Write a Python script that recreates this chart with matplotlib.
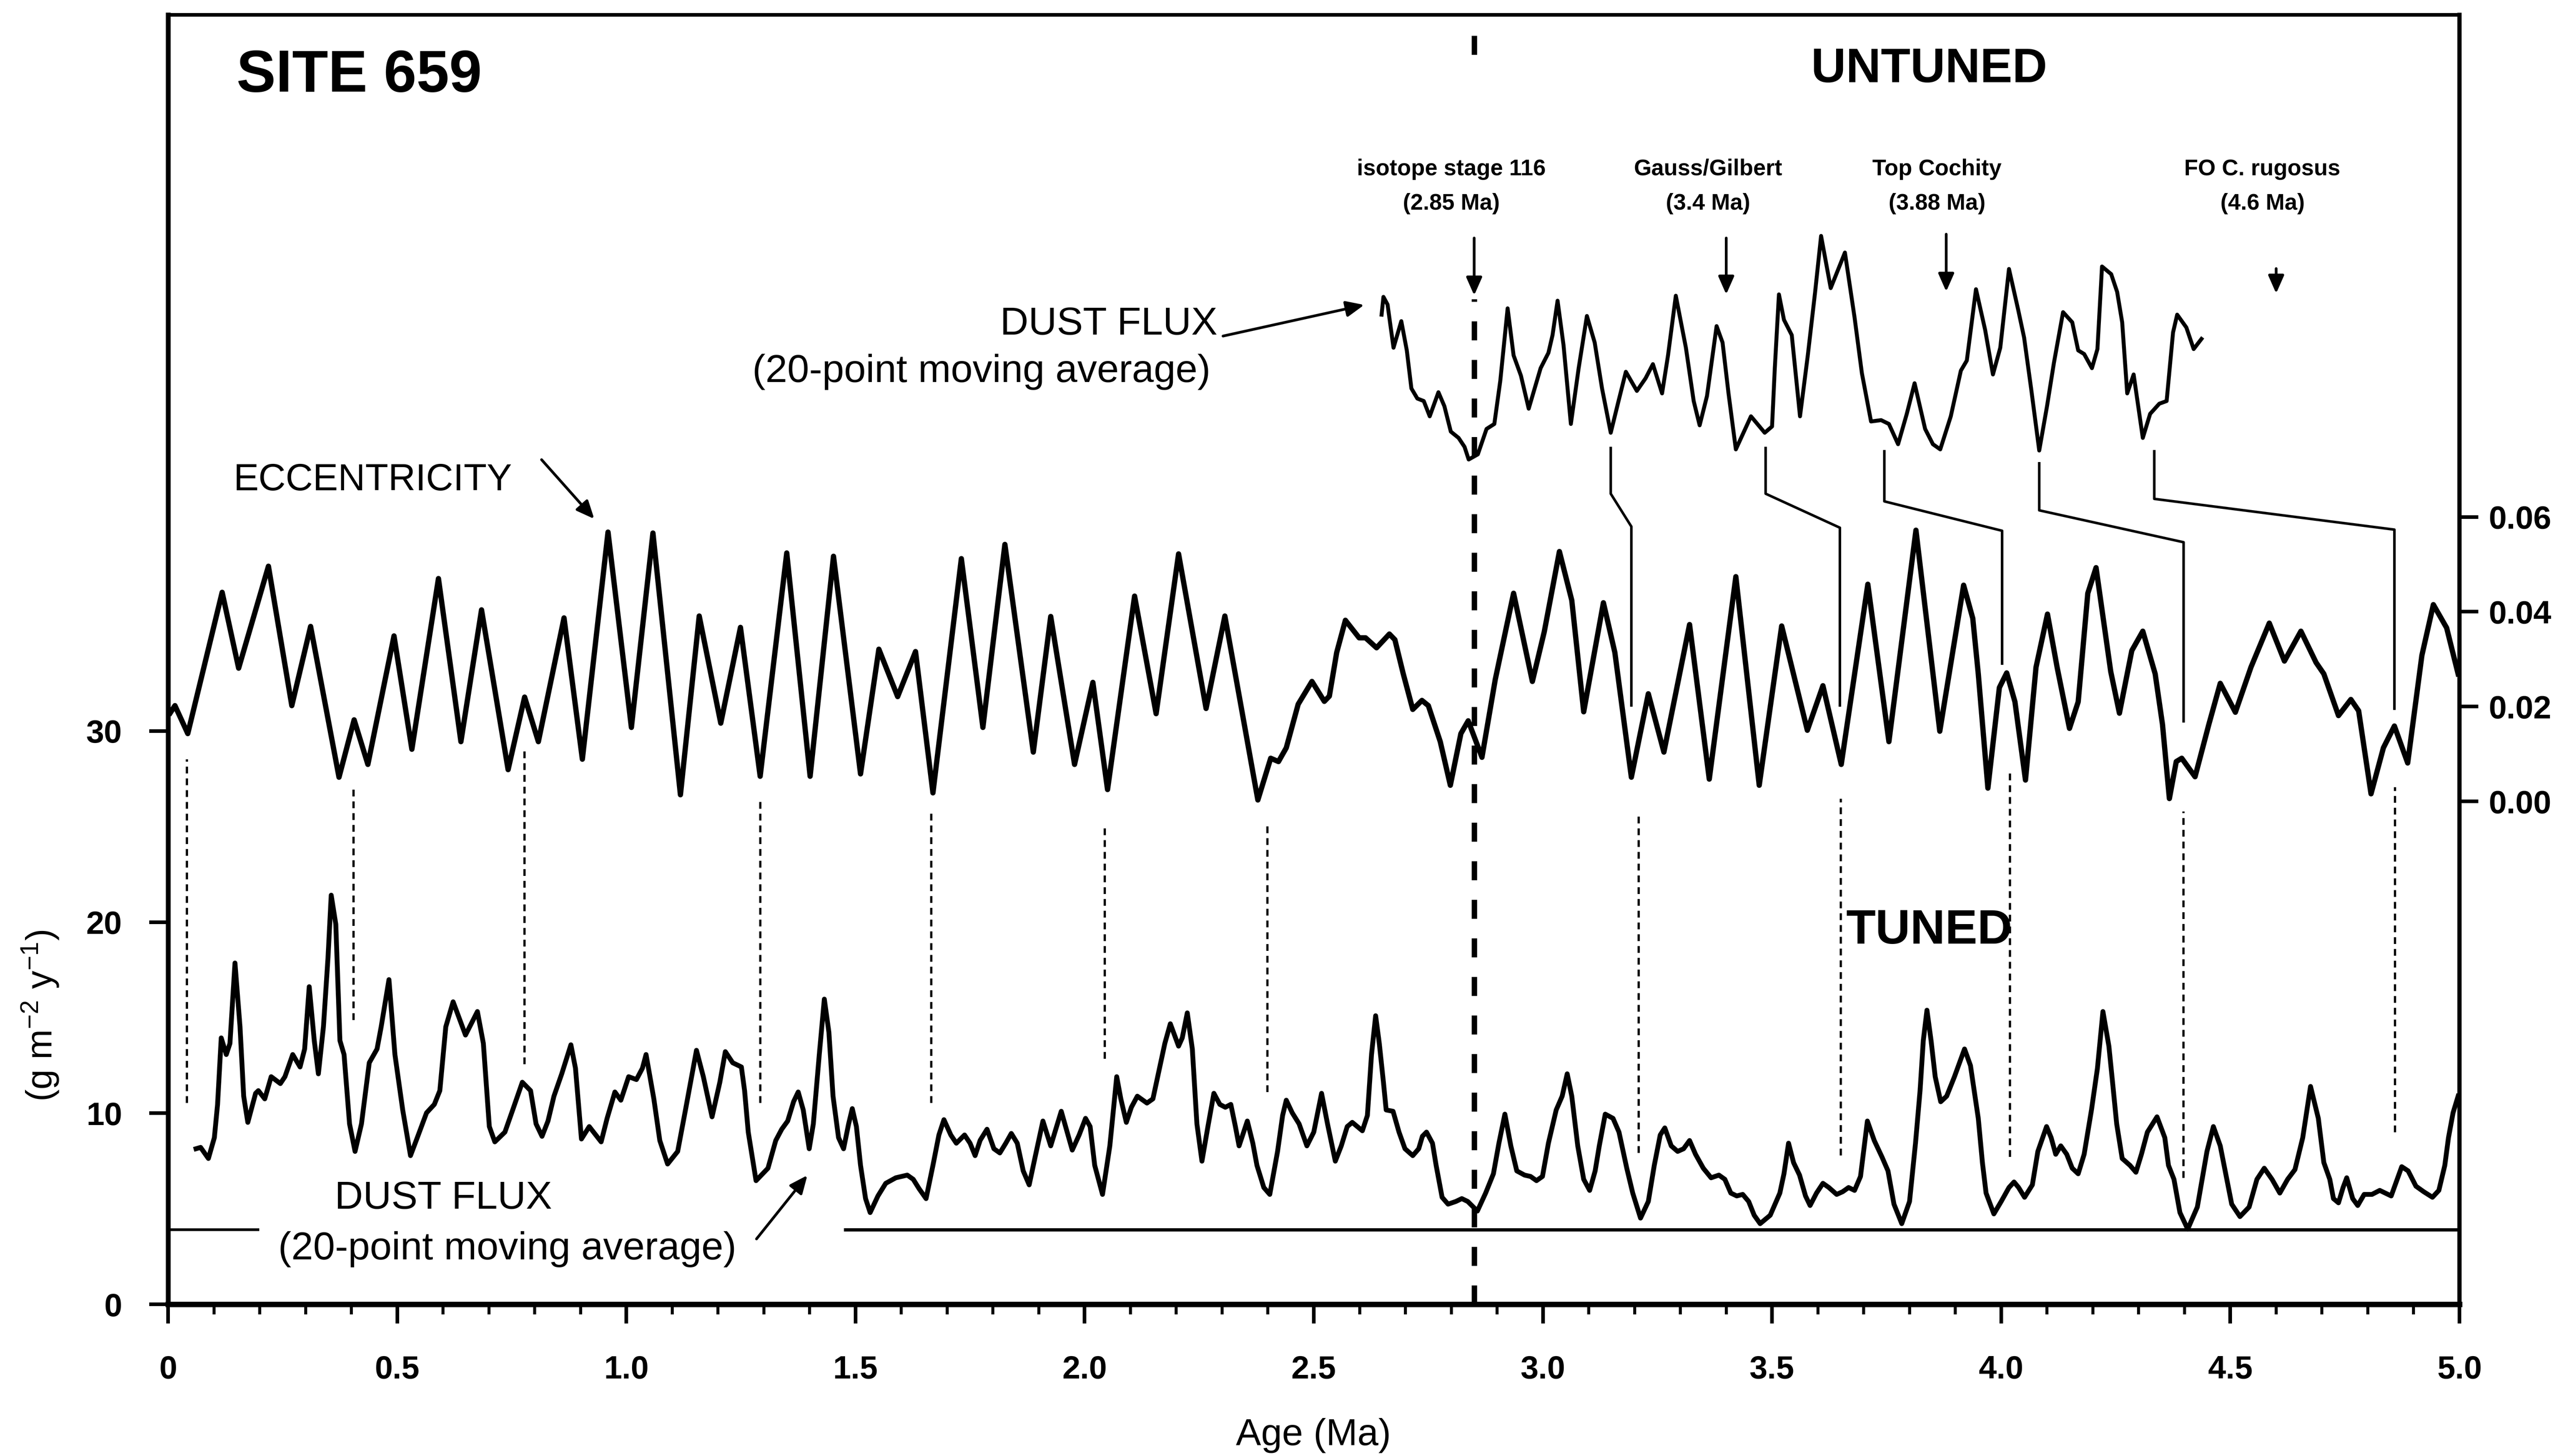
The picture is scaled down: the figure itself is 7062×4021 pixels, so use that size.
import numpy as np
import matplotlib
matplotlib.use('Agg')
import matplotlib.pyplot as plt
import matplotlib.font_manager as fm
from matplotlib.ticker import MultipleLocator

names = {f.name for f in fm.fontManager.ttflist}
FONT = 'Liberation Sans' if 'Liberation Sans' in names else 'DejaVu Sans'
plt.rcParams['font.family'] = [FONT, 'DejaVu Sans']
plt.rcParams['mathtext.fontset'] = 'custom'
plt.rcParams['mathtext.rm'] = FONT
plt.rcParams['mathtext.it'] = FONT + ':italic'
plt.rcParams['mathtext.bf'] = FONT + ':bold'
plt.rcParams['mathtext.default'] = 'regular'

# ---------------- data ----------------
ecc_age = [0.005, 0.015, 0.043, 0.118, 0.154, 0.219, 0.270, 0.311, 0.373, 0.406, 0.436, 0.493, 0.532, 0.590,
           0.639, 0.684, 0.742, 0.778, 0.808, 0.864, 0.904, 0.960, 1.011, 1.058, 1.118, 1.159, 1.206, 1.249,
           1.292, 1.350, 1.401, 1.452, 1.511, 1.551, 1.592, 1.631, 1.669, 1.731, 1.778, 1.826, 1.888, 1.926,
           1.978, 2.018, 2.050, 2.109, 2.156, 2.205, 2.265, 2.306, 2.378, 2.406, 2.423, 2.440, 2.466, 2.496,
           2.523, 2.534, 2.550, 2.569, 2.599, 2.613, 2.637, 2.665, 2.677, 2.695, 2.716, 2.736, 2.750, 2.776,
           2.798, 2.821, 2.837, 2.867, 2.896, 2.936, 2.977, 3.003, 3.036, 3.063, 3.089, 3.132, 3.157, 3.193,
           3.230, 3.264, 3.320, 3.363, 3.421, 3.472, 3.521, 3.577, 3.611, 3.651, 3.709, 3.755, 3.814, 3.866,
           3.918, 3.938, 3.950, 3.971, 3.996, 4.012, 4.030, 4.053, 4.076, 4.101, 4.122, 4.149, 4.168, 4.189,
           4.207, 4.239, 4.258, 4.285, 4.309, 4.336, 4.352, 4.367, 4.382, 4.394, 4.423, 4.453, 4.478, 4.511,
           4.545, 4.585, 4.618, 4.654, 4.687, 4.704, 4.736, 4.763, 4.780, 4.807, 4.834, 4.858, 4.887, 4.918,
           4.943, 4.972, 4.997]
ecc_val = [0.0187, 0.0202, 0.0143, 0.0441, 0.0281, 0.0496, 0.0202, 0.0369, 0.0051, 0.0172, 0.0078, 0.0349,
           0.0110, 0.0470, 0.0126, 0.0404, 0.0067, 0.0220, 0.0126, 0.0387, 0.0089, 0.0568, 0.0156, 0.0566,
           0.0014, 0.0391, 0.0165, 0.0367, 0.0053, 0.0524, 0.0053, 0.0517, 0.0058, 0.0321, 0.0221, 0.0316,
           0.0018, 0.0512, 0.0156, 0.0542, 0.0104, 0.0390, 0.0078, 0.0251, 0.0025, 0.0433, 0.0185, 0.0522,
           0.0196, 0.0391, 0.0003, 0.0091, 0.0084, 0.0113, 0.0205, 0.0253, 0.0211, 0.0222, 0.0314, 0.0382,
           0.0345, 0.0345, 0.0324, 0.0353, 0.0341, 0.0270, 0.0194, 0.0213, 0.0202, 0.0126, 0.0034, 0.0143,
           0.0170, 0.0093, 0.0257, 0.0439, 0.0253, 0.0358, 0.0527, 0.0424, 0.0189, 0.0419, 0.0314, 0.0051,
           0.0227, 0.0104, 0.0373, 0.0047, 0.0474, 0.0034, 0.0370, 0.0150, 0.0244, 0.0078, 0.0458, 0.0126,
           0.0572, 0.0148, 0.0456, 0.0386, 0.0269, 0.0028, 0.0240, 0.0271, 0.0210, 0.0045, 0.0283, 0.0395,
           0.0283, 0.0154, 0.0210, 0.0439, 0.0493, 0.0274, 0.0186, 0.0318, 0.0359, 0.0269, 0.0162, 0.0006,
           0.0084, 0.0091, 0.0052, 0.0162, 0.0249, 0.0188, 0.0283, 0.0376, 0.0296, 0.0359, 0.0293, 0.0269,
           0.0181, 0.0215, 0.0191, 0.0016, 0.0113, 0.0159, 0.0081, 0.0308, 0.0415, 0.0366, 0.0269]

tuned_age = [0.061, 0.071, 0.088, 0.101, 0.108, 0.116, 0.127, 0.135, 0.146, 0.157, 0.165, 0.174, 0.191, 0.197,
             0.211, 0.225, 0.245, 0.255, 0.272, 0.288, 0.298, 0.308, 0.319, 0.328, 0.339, 0.349, 0.356, 0.366,
             0.375, 0.384, 0.396, 0.408, 0.422, 0.439, 0.456, 0.465, 0.482, 0.495, 0.512, 0.529, 0.546, 0.564,
             0.581, 0.593, 0.606, 0.622, 0.649, 0.675, 0.688, 0.701, 0.713, 0.735, 0.752, 0.773, 0.791, 0.803,
             0.816, 0.829, 0.842, 0.859, 0.879, 0.889, 0.902, 0.919, 0.945, 0.958, 0.975, 0.988, 1.005, 1.022,
             1.035, 1.043, 1.060, 1.073, 1.090, 1.112, 1.129, 1.153, 1.168, 1.187, 1.204, 1.216, 1.232, 1.251,
             1.258, 1.266, 1.283, 1.309, 1.326, 1.339, 1.352, 1.365, 1.375, 1.386, 1.399, 1.408, 1.421, 1.432,
             1.442, 1.451, 1.463, 1.474, 1.485, 1.493, 1.502, 1.511, 1.522, 1.532, 1.549, 1.566, 1.588, 1.613,
             1.626, 1.639, 1.654, 1.669, 1.682, 1.693, 1.708, 1.720, 1.738, 1.750, 1.761, 1.772, 1.787, 1.802,
             1.815, 1.828, 1.840, 1.853, 1.866, 1.879, 1.892, 1.909, 1.926, 1.949, 1.973, 1.988, 2.002, 2.012,
             2.022, 2.039, 2.055, 2.070, 2.079, 2.091, 2.102, 2.115, 2.136, 2.149, 2.166, 2.175, 2.187, 2.205,
             2.213, 2.224, 2.235, 2.245, 2.256, 2.269, 2.282, 2.295, 2.307, 2.319, 2.329, 2.337, 2.355, 2.367,
             2.376, 2.391, 2.404, 2.421, 2.432, 2.440, 2.453, 2.468, 2.485, 2.500, 2.517, 2.530, 2.547, 2.560,
             2.573, 2.584, 2.606, 2.617, 2.626, 2.635, 2.643, 2.652, 2.658, 2.673, 2.686, 2.699, 2.716, 2.729,
             2.737, 2.746, 2.759, 2.767, 2.780, 2.793, 2.810, 2.823, 2.836, 2.857, 2.875, 2.892, 2.904, 2.917,
             2.930, 2.943, 2.960, 2.973, 2.986, 2.999, 3.012, 3.029, 3.042, 3.053, 3.063, 3.076, 3.089, 3.102,
             3.114, 3.123, 3.136, 3.153, 3.166, 3.183, 3.196, 3.213, 3.230, 3.243, 3.256, 3.266, 3.280, 3.294,
             3.307, 3.320, 3.333, 3.350, 3.367, 3.384, 3.397, 3.410, 3.423, 3.436, 3.449, 3.461, 3.474, 3.496,
             3.517, 3.526, 3.536, 3.547, 3.560, 3.573, 3.583, 3.597, 3.611, 3.624, 3.641, 3.654, 3.667, 3.680,
             3.693, 3.708, 3.723, 3.740, 3.753, 3.766, 3.783, 3.800, 3.813, 3.823, 3.830, 3.838, 3.847, 3.856,
             3.868, 3.881, 3.898, 3.920, 3.933, 3.950, 3.959, 3.967, 3.984, 4.000, 4.017, 4.028, 4.038, 4.051,
             4.068, 4.080, 4.099, 4.109, 4.119, 4.130, 4.143, 4.155, 4.168, 4.181, 4.197, 4.210, 4.222, 4.235,
             4.243, 4.252, 4.264, 4.281, 4.294, 4.306, 4.319, 4.340, 4.357, 4.365, 4.377, 4.390, 4.407, 4.428,
             4.449, 4.463, 4.478, 4.490, 4.503, 4.521, 4.541, 4.558, 4.574, 4.591, 4.608, 4.625, 4.641, 4.658,
             4.675, 4.692, 4.704, 4.717, 4.725, 4.736, 4.746, 4.754, 4.767, 4.778, 4.792, 4.809, 4.826, 4.851,
             4.874, 4.888, 4.905, 4.922, 4.941, 4.955, 4.968, 4.976, 4.986, 4.997]
tuned_flux = [8.14, 8.21, 7.63, 8.72, 10.46, 13.94, 13.07, 13.65, 17.86, 14.52, 10.89, 9.52, 11.04, 11.18,
              10.75, 11.91, 11.55, 11.91, 13.07, 12.42, 13.36, 16.62, 13.80, 12.06, 14.52, 18.15, 21.41, 19.89,
              13.80, 13.07, 9.44, 8.00, 9.44, 12.64, 13.36, 14.52, 16.99, 13.07, 10.17, 7.78, 8.86, 10.02,
              10.46, 11.18, 14.52, 15.83, 14.09, 15.32, 13.65, 9.30, 8.50, 9.01, 10.17, 11.62, 11.18, 9.44,
              8.79, 9.59, 10.89, 12.06, 13.58, 12.35, 8.65, 9.30, 8.50, 9.73, 11.11, 10.68, 11.91, 11.76,
              12.35, 13.07, 10.75, 8.57, 7.34, 8.00, 10.17, 13.29, 11.91, 9.81, 11.62, 13.22, 12.64, 12.42,
              11.18, 9.01, 6.47, 7.12, 8.57, 9.16, 9.59, 10.61, 11.11, 10.17, 8.14, 9.44, 13.07, 15.97,
              14.23, 10.89, 8.72, 8.14, 9.44, 10.24, 9.30, 7.27, 5.53, 4.80, 5.67, 6.33, 6.62, 6.76,
              6.54, 6.04, 5.53, 7.27, 8.86, 9.66, 8.86, 8.43, 8.86, 8.43, 7.78, 8.58, 9.16, 8.14,
              7.92, 8.43, 8.94, 8.43, 6.98, 6.25, 7.71, 9.59, 8.29, 10.10, 8.07, 8.86, 9.73, 9.30,
              7.27, 5.75, 8.29, 11.91, 10.75, 9.52, 10.31, 10.89, 10.53, 10.75, 12.64, 13.65, 14.68, 13.51,
              13.94, 15.25, 13.36, 9.44, 7.49, 9.30, 11.04, 10.46, 10.31, 10.46, 9.30, 8.29, 9.59, 8.43,
              7.27, 6.11, 5.75, 8.00, 9.88, 10.68, 10.02, 9.44, 8.29, 9.01, 11.04, 9.44, 7.49, 8.29,
              9.30, 9.52, 9.08, 9.88, 13.07, 15.10, 13.65, 11.62, 10.17, 10.10, 9.01, 8.14, 7.78, 8.14,
              8.79, 9.01, 8.43, 7.27, 5.60, 5.24, 5.38, 5.53, 5.38, 4.88, 5.82, 6.83, 8.43, 9.95,
              8.29, 6.98, 6.76, 6.69, 6.47, 6.69, 8.43, 10.17, 10.89, 12.06, 10.89, 8.29, 6.54, 5.96,
              6.98, 8.29, 9.95, 9.73, 9.01, 7.12, 5.82, 4.51, 5.38, 7.27, 8.86, 9.23, 8.29, 8.00,
              8.14, 8.57, 7.85, 7.12, 6.62, 6.76, 6.54, 5.82, 5.67, 5.75, 5.38, 4.66, 4.22, 4.66,
              5.82, 6.83, 8.43, 7.41, 6.76, 5.67, 5.17, 5.82, 6.33, 6.11, 5.75, 5.89, 6.11, 5.96,
              6.69, 9.59, 8.57, 7.70, 6.98, 5.24, 4.22, 5.38, 8.43, 11.19, 13.80, 15.39, 13.80, 11.91,
              10.60, 10.89, 11.91, 13.36, 12.49, 9.73, 7.42, 5.82, 4.73, 5.38, 6.11, 6.40, 6.11, 5.60,
              6.25, 8.00, 9.30, 8.72, 7.85, 8.29, 7.85, 7.12, 6.83, 7.85, 10.17, 12.35, 15.32, 13.51,
              11.62, 9.44, 7.63, 7.27, 6.91, 7.85, 9.01, 9.81, 8.72, 7.27, 6.54, 4.80, 3.93, 5.09,
              8.00, 9.30, 8.29, 6.83, 5.24, 4.59, 5.09, 6.54, 7.12, 6.54, 5.82, 6.54, 7.05, 8.72,
              11.40, 9.73, 7.42, 6.54, 5.53, 5.31, 6.11, 6.62, 5.53, 5.17, 5.75, 5.75, 5.96, 5.67,
              7.20, 6.98, 6.18, 5.89, 5.60, 5.96, 7.27, 8.72, 10.02, 10.89]

untuned_age = [2.648, 2.652, 2.661, 2.674, 2.691, 2.703, 2.713, 2.726, 2.740, 2.753, 2.772, 2.785, 2.799,
               2.816, 2.829, 2.838, 2.858, 2.877, 2.894, 2.907, 2.923, 2.936, 2.952, 2.969, 2.982, 2.995,
               3.012, 3.021, 3.032, 3.045, 3.061, 3.078, 3.096, 3.113, 3.129, 3.148, 3.165, 3.181, 3.205,
               3.224, 3.240, 3.260, 3.273, 3.290, 3.312, 3.329, 3.342, 3.358, 3.379, 3.392, 3.405, 3.421,
               3.454, 3.484, 3.500, 3.506, 3.515, 3.526, 3.543, 3.561, 3.578, 3.594, 3.607, 3.628, 3.659,
               3.680, 3.696, 3.716, 3.738, 3.755, 3.775, 3.794, 3.811, 3.834, 3.851, 3.867, 3.890, 3.912,
               3.925, 3.945, 3.965, 3.982, 3.998, 4.017, 4.037, 4.050, 4.066, 4.083, 4.100, 4.115, 4.135,
               4.155, 4.168, 4.181, 4.198, 4.210, 4.220, 4.240, 4.253, 4.264, 4.275, 4.289, 4.309, 4.325,
               4.345, 4.361, 4.375, 4.384, 4.404, 4.420, 4.437]
untuned_flux = [11.79, 12.72, 12.32, 10.06, 11.45, 9.92, 7.93, 7.40, 7.27, 6.47, 7.73, 7.00, 5.67,
                5.34, 4.87, 4.21, 4.48, 5.81, 6.07, 8.33, 12.12, 9.66, 8.60, 6.87, 7.93, 8.99,
                9.79, 10.72, 12.52, 10.19, 6.07, 8.99, 11.72, 10.33, 7.93, 5.61, 7.27, 8.80, 7.80,
                8.46, 9.20, 7.67, 9.66, 12.78, 10.06, 7.27, 6.00, 7.53, 11.19, 10.33, 7.67, 4.74,
                6.47, 5.61, 5.94, 8.99, 12.85, 11.52, 10.72, 6.47, 9.66, 12.98, 15.91, 13.18, 15.04,
                11.65, 8.73, 6.20, 6.27, 6.07, 5.01, 6.60, 8.20, 5.81, 5.01, 4.74, 6.47, 8.86,
                9.39, 13.12, 10.99, 8.66, 10.06, 14.18, 12.05, 10.59, 7.80, 4.68, 7.00, 9.26, 11.92,
                11.39, 9.92, 9.73, 8.99, 9.99, 14.31, 13.91, 12.98, 11.39, 7.67, 8.66, 5.34, 6.60,
                7.13, 7.27, 10.86, 11.79, 11.12, 9.99, 10.52]

# tie points: untuned age -> tuned (eccentricity) age
tie_untuned = [3.148, 3.486, 3.745, 4.083, 4.334]
tie_tuned = [3.193, 3.648, 4.002, 4.398, 4.858]
# eccentricity minima matched to the tuned dust record
tie_dotted = [0.041, 0.405, 0.778, 1.292, 1.665, 2.044, 2.399, 3.209, 3.650, 4.019, 4.398, 4.859]

events = ['isotope stage 116', 'Gauss/Gilbert', 'Top Cochity', 'FO C. rugosus']
event_age = [2.85, 3.4, 3.88, 4.6]
event_lbl = ['(2.85 Ma)', '(3.4 Ma)', '(3.88 Ma)', '(4.6 Ma)']

xticks = [0, 0.5, 1.0, 1.5, 2.0, 2.5, 3.0, 3.5, 4.0, 4.5, 5.0]
xtick_labels = ['0', '0.5', '1.0', '1.5', '2.0', '2.5', '3.0', '3.5', '4.0', '4.5', '5.0']
yticks = [0, 10, 20, 30]
ecc_ticks = [0.00, 0.02, 0.04, 0.06]

# ---------------- layout / style constants ----------------
UNTUNED_OFFSET = 40.0
BASELINE = 3.9
# connector geometry (left-axis units): upper top, upper bend, lower top, lower bottom
conn_y = [(44.81, 42.42, 40.70, 31.34), (44.81, 42.42, 40.64, 31.34), (44.64, 42.02, 40.48, 33.53),
          (44.01, 41.55, 39.88, 30.51), (44.64, 42.15, 40.54, 31.17)]
dot_top = [28.51, 27.15, 28.95, 26.50, 25.79, 25.09, 25.09, 25.74, 26.45, 27.79, 25.79, 27.06]
dot_bot = [10.53, 14.88, 12.56, 10.53, 10.53, 12.85, 11.11, 7.92, 7.78, 7.71, 6.62, 9.01]

W, H = 7062, 4021
fig = plt.figure(figsize=(W / 600, H / 600), dpi=600)
ax = fig.add_axes([464 / W, 419 / H, (6790 - 464) / W, (3602 - 41) / H])
ax.set_xlim(0, 5.0)
ax.set_ylim(0, 67.48)
ax2 = ax.twinx()
ax2.set_ylim(-0.10606, 0.16589)

# curves
ax2.plot(ecc_age, ecc_val, color='k', lw=1.75)
ax.plot(tuned_age, tuned_flux, color='k', lw=1.6)
ax.plot(untuned_age, np.array(untuned_flux) + UNTUNED_OFFSET, color='k', lw=1.3)

# baselines
ax.plot([0, 0.196], [BASELINE, BASELINE], color='k', lw=0.9)
ax.plot([1.478, 5.0], [BASELINE, BASELINE], color='k', lw=1.1)

# thick dashed line at 2.85 Ma
ax.plot([2.85, 2.85], [0, 52.6], color='k', lw=1.8, ls=(0, (3.5, 3.6)))
ax.plot([2.85, 2.85], [65.4, 67.48], color='k', lw=1.8, ls=(0, (3.5, 3.6)))

# dotted tie lines
for a, t, b in zip(tie_dotted, dot_top, dot_bot):
    ax.plot([a, a], [b, t], color='k', lw=0.75, ls=(0, (3, 2.2)))

# connectors from untuned to eccentricity
for u, t, (y0, y1, y2, y3) in zip(tie_untuned, tie_tuned, conn_y):
    ax.plot([u, u, t, t], [y0, y1, y2, y3], color='k', lw=0.85)

# axes styling
ax.spines['right'].set_visible(False)
for s in ['left', 'top', 'bottom']:
    ax2.spines[s].set_visible(False)
ax.spines['left'].set_linewidth(1.6)
ax.spines['bottom'].set_linewidth(1.8)
ax.spines['top'].set_linewidth(1.2)
ax2.spines['right'].set_linewidth(1.4)

ax.set_xticks(xticks)
ax.set_xticklabels(xtick_labels, fontweight='bold')
ax.xaxis.set_minor_locator(MultipleLocator(0.1))
ax.set_yticks(yticks)
ax.set_yticklabels([str(v) for v in yticks], fontweight='bold')
ax2.set_yticks(ecc_ticks)
ax2.set_yticklabels(['%.2f' % v for v in ecc_ticks], fontweight='bold')
ax.tick_params(axis='x', which='major', direction='out', length=6.4, width=1.2, pad=10.4, labelsize=10.7)
ax.tick_params(axis='x', which='minor', direction='out', length=3.3, width=1.0)
ax.tick_params(axis='y', direction='out', length=6.2, width=1.2, pad=9, labelsize=10.7)
ax2.tick_params(axis='y', direction='out', length=6.2, width=1.2, pad=3.4, labelsize=10.7)

fig.text(3626 / W, (H - 3964) / H, 'Age (Ma)', ha='center', va='center', fontsize=12.5)
ax.text(-0.278, 15.1, '(g m$^{-2}$ y$^{-1}$)', rotation=90, ha='center', va='center', fontsize=12,
        clip_on=False)

# labels
ax.text(0.149, 64.27, 'SITE 659', ha='left', va='center', fontsize=19.5, fontweight='bold')
ax.text(3.843, 64.6, 'UNTUNED', ha='center', va='center', fontsize=16, fontweight='bold')
ax.text(3.843, 19.52, 'TUNED', ha='center', va='center', fontsize=16, fontweight='bold')
ax.text(0.447, 43.1, 'ECCENTRICITY', ha='center', va='center', fontsize=12.5)
ax.text(2.053, 51.27, 'DUST FLUX', ha='center', va='center', fontsize=13)
ax.text(1.775, 48.8, '(20-point moving average)', ha='center', va='center', fontsize=13)
ax.text(0.601, 5.53, 'DUST FLUX', ha='center', va='center', fontsize=13)
ax.text(0.740, 2.88, '(20-point moving average)', ha='center', va='center', fontsize=13)

ap = dict(arrowstyle='-|>,head_length=0.5,head_width=0.22', color='k', lw=0.9, mutation_scale=10,
          shrinkA=0, shrinkB=0)
ax.annotate('', xy=(0.93, 41.1), xytext=(0.815, 44.2), arrowprops=ap)
ax.annotate('', xy=(2.61, 52.3), xytext=(2.302, 50.67), arrowprops=ap)
ax.annotate('', xy=(1.395, 6.75), xytext=(1.284, 3.42), arrowprops=ap)

ev_text_x = [2.80, 3.36, 3.86, 4.57]
ev_tail = [55.8, 55.8, 56.0, 54.2]
ev_tip = [52.8, 52.85, 53.0, 52.9]
for name, lbl, a, tx, y0, y1 in zip(events, event_lbl, event_age, ev_text_x, ev_tail, ev_tip):
    ax.text(tx, 59.4, name, ha='center', va='center', fontsize=7.5, fontweight='bold')
    ax.text(tx, 57.6, lbl, ha='center', va='center', fontsize=7.5, fontweight='bold')
    ax.annotate('', xy=(a, y1), xytext=(a, y0), arrowprops=ap)

fig.savefig('out.png', dpi=600)
